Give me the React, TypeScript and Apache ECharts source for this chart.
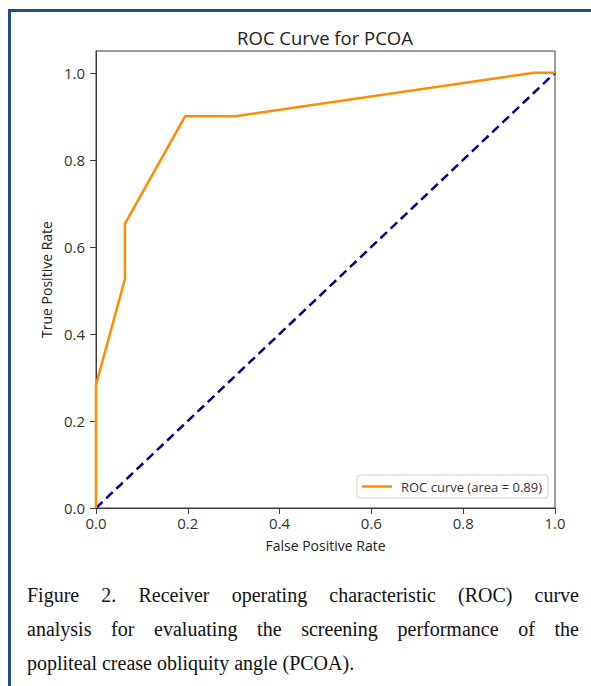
import React, { useEffect, useRef } from "react";
import * as echarts from "echarts";

const fpr = [0, 0, 0.063, 0.063, 0.194, 0.303, 0.954, 1.0];
const tpr = [0, 0.283, 0.526, 0.653, 0.9, 0.9, 1.0, 1.0];
const chanceX = [0, 1];
const chanceY = [0, 1];
const xTicks = [0, 0.2, 0.4, 0.6, 0.8, 1.0];
const yTicks = [0, 0.2, 0.4, 0.6, 0.8, 1.0];
const titleText = "ROC Curve for PCOA";
const legendLabel = "ROC curve (area = 0.89)";
const xName = "False Positive Rate";
const yName = "True Positive Rate";
const captionLines = [
  "Figure 2. Receiver operating characteristic (ROC) curve",
  "analysis for evaluating the screening performance of the",
  "popliteal crease obliquity angle (PCOA).",
];

const FONT = "'Open Sans', Roboto, sans-serif";

export default function App() {
  const ref = useRef<HTMLDivElement>(null);
  useEffect(() => {
    if (!ref.current) return;
    const chart = echarts.init(ref.current, null, { renderer: "svg" });
    chart.setOption({
      animation: false,
      backgroundColor: "transparent",
      grid: {
        left: 96,
        right: 36,
        top: 51,
        bottom: 52,
        show: true,
        borderColor: "#3a3a3a",
        borderWidth: 1,
        backgroundColor: "#fff",
      },
      graphic: [
        {
          type: "text",
          x: 325,
          y: 37,
          style: {
            text: titleText,
            fontFamily: FONT,
            fontSize: 18.5,
            fill: "#222",
            textAlign: "center",
            textVerticalAlign: "middle",
          },
        },
      ],
      legend: {
        right: 43,
        top: 475,
        data: [{ name: legendLabel, icon: "rect" }],
        itemWidth: 30,
        itemHeight: 2.5,
        itemGap: 10,
        padding: [5, 6, 5, 5],
        borderColor: "#d0d0d0",
        borderWidth: 1,
        borderRadius: 3,
        backgroundColor: "#fff",
        textStyle: { fontFamily: FONT, fontSize: 13, color: "#333", padding: [0, 0, 0, 4] },
      },
      xAxis: {
        type: "value",
        min: 0,
        max: 1,
        interval: 0.2,
        name: xName,
        nameLocation: "middle",
        nameGap: 30,
        nameTextStyle: { fontFamily: FONT, fontSize: 14, color: "#222" },
        axisLine: { show: true, lineStyle: { color: "#3a3a3a", width: 1 } },
        axisTick: { show: true, length: 6, lineStyle: { color: "#3a3a3a" } },
        axisLabel: {
          fontFamily: FONT,
          fontSize: 15,
          color: "#333",
          margin: 7,
          formatter: (v: number) => v.toFixed(1),
          customValues: xTicks,
        },
        splitLine: { show: false },
      },
      yAxis: {
        type: "value",
        min: 0,
        max: 1.05,
        interval: 0.2,
        name: yName,
        nameLocation: "middle",
        nameGap: 43,
        nameRotate: 90,
        nameTextStyle: { fontFamily: FONT, fontSize: 14, color: "#222" },
        axisLine: { show: true, lineStyle: { color: "#3a3a3a", width: 1 } },
        axisTick: { show: true, length: 6, lineStyle: { color: "#3a3a3a" }, customValues: yTicks },
        axisLabel: {
          fontFamily: FONT,
          fontSize: 15,
          color: "#333",
          margin: 11,
          formatter: (v: number) => v.toFixed(1),
          customValues: yTicks,
        },
        splitLine: { show: false },
      },
      series: [
        {
          name: legendLabel,
          type: "line",
          data: fpr.map((x, i) => [x, tpr[i]]),
          showSymbol: false,
          symbol: "none",
          lineStyle: { color: "#ff8c00", width: 2.5 },
          itemStyle: { color: "#ff8c00" },
          z: 3,
        },
        {
          name: "chance",
          type: "line",
          data: chanceX.map((x, i) => [x, chanceY[i]]),
          showSymbol: false,
          symbol: "none",
          lineStyle: { color: "#000080", width: 2.5, type: [9, 5] },
          z: 2,
        },
      ],
    });
    return () => chart.dispose();
  }, []);

  return (
    <div
      style={{
        position: "fixed",
        left: 0,
        top: 0,
        width: 591,
        height: 686,
        overflow: "hidden",
        background: "#fff",
      }}
    >
      <div
        style={{
          position: "absolute",
          left: 8,
          top: 9,
          width: 700,
          height: 800,
          borderLeft: "3px solid #1f4e84",
          borderTop: "3px solid #1f4e84",
        }}
      />
      <div ref={ref} style={{ position: "absolute", left: 0, top: 0, width: 591, height: 560 }} />
      <div
        style={{
          position: "absolute",
          left: 27,
          top: 578,
          width: 552,
          fontFamily: "'Liberation Serif', 'Times New Roman', serif",
          fontSize: 20,
          lineHeight: "34px",
          color: "#111",
        }}
      >
        {captionLines.map((line, i) => (
          <div
            key={i}
            style={{
              textAlign: i < captionLines.length - 1 ? "justify" : "left",
              textAlignLast: i < captionLines.length - 1 ? "justify" : "left",
              whiteSpace: "nowrap",
            }}
          >
            {line}
          </div>
        ))}
      </div>
    </div>
  );
}
